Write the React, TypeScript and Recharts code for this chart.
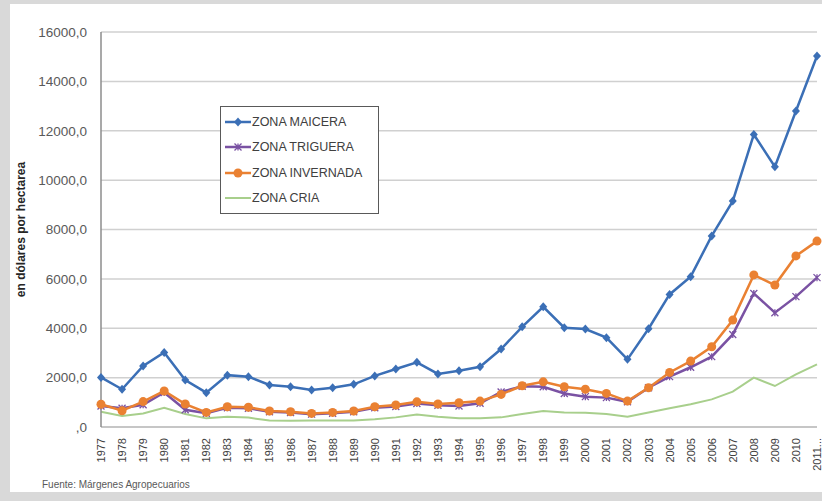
import React from "react";
import { LineChart, Line, XAxis, YAxis, CartesianGrid, Legend } from "recharts";

const years = ["1977","1978","1979","1980","1981","1982","1983","1984","1985","1986","1987","1988","1989","1990","1991","1992","1993","1994","1995","1996","1997","1998","1999","2000","2001","2002","2003","2004","2005","2006","2007","2008","2009","2010","2011..."];

const maicera = [2010,1530,2470,3020,1900,1390,2100,2040,1700,1630,1500,1590,1730,2070,2350,2620,2150,2280,2440,3160,4060,4870,4020,3970,3620,2740,3980,5370,6090,7740,9150,11850,10540,12800,15030];
const triguera = [850,760,900,1400,700,560,780,760,620,590,520,560,620,780,830,950,880,850,960,1420,1650,1630,1360,1230,1190,1020,1590,2040,2420,2850,3750,5410,4630,5280,6050];
const invernada = [920,660,1030,1460,930,590,820,800,650,620,550,590,650,820,890,1020,930,980,1050,1320,1670,1830,1630,1530,1360,1050,1590,2210,2670,3250,4330,6160,5750,6930,7530];
const cria = [620,450,550,780,530,350,420,380,260,250,260,260,260,310,390,510,420,350,350,390,530,650,590,580,530,420,590,760,920,1120,1430,2000,1660,2130,2540];

const yTicks = [0,2000,4000,6000,8000,10000,12000,14000,16000];

const seriesNames = ["ZONA MAICERA","ZONA TRIGUERA","ZONA INVERNADA","ZONA CRIA"];
const seriesColors = ["#3b6fb6","#7a52a3","#ea8132","#a8cf8c"];

const data = years.map((y, i) => ({
  year: y,
  maicera: maicera[i],
  triguera: triguera[i],
  invernada: invernada[i],
  cria: cria[i],
}));

const FONT = "'Liberation Sans', Arial, sans-serif";

const Diamond = (props: any) => {
  const { cx, cy, fill } = props;
  if (cx == null || cy == null) return null;
  return <path d={`M${cx},${cy - 4.5}L${cx + 4},${cy}L${cx},${cy + 4.5}L${cx - 4},${cy}Z`} fill={fill} />;
};
const Circle = (props: any) => {
  const { cx, cy, fill } = props;
  if (cx == null || cy == null) return null;
  return <circle cx={cx} cy={cy} r={4.5} fill={fill} />;
};
const Star = (props: any) => {
  const { cx, cy, stroke } = props;
  if (cx == null || cy == null) return null;
  const r = 3.5;
  return (
    <path
      d={`M${cx - r},${cy - r}L${cx + r},${cy + r}M${cx - r},${cy + r}L${cx + r},${cy - r}M${cx},${cy - r}L${cx},${cy + r}`}
      stroke={stroke}
      strokeWidth={1.3}
      fill="none"
    />
  );
};

const markerFor = (i: number, color: string, cx: number, cy: number) => {
  if (i === 0) return <Diamond cx={cx} cy={cy} fill={color} />;
  if (i === 1) return <Star cx={cx} cy={cy} stroke={color} />;
  if (i === 2) return <Circle cx={cx} cy={cy} fill={color} />;
  return null;
};

const XTick = (props: any) => {
  const { x, y, payload } = props;
  return (
    <text
      x={x}
      y={y}
      transform={`rotate(-90, ${x}, ${y})`}
      textAnchor="end"
      dominantBaseline="central"
      fontSize={11}
      fill="#404040"
      fontFamily={FONT}
    >
      {payload.value}
    </text>
  );
};

const LegendBox = () => (
  <div
    style={{
      border: "1.5px solid #595959",
      background: "#fff",
      width: 159,
      padding: "2px 0 2px 4px",
      boxSizing: "border-box",
      fontFamily: FONT,
      fontSize: 12.5,
      color: "#404040",
    }}
  >
    {seriesNames.map((n, i) => (
      <div key={n} style={{ display: "flex", alignItems: "center", height: 25.5 }}>
        <svg width={26} height={12} style={{ marginRight: 1 }}>
          <line x1={0} y1={6} x2={26} y2={6} stroke={seriesColors[i]} strokeWidth={i === 3 ? 2 : 2.5} />
          {markerFor(i, seriesColors[i], 13, 6)}
        </svg>
        <span>{n}</span>
      </div>
    ))}
  </div>
);

const YLabel = (props: any) => {
  const vb = props.viewBox || {};
  const cx = 21;
  const cy = vb.y + vb.height / 2;
  return (
    <text
      x={cx}
      y={cy}
      transform={`rotate(-90, ${cx}, ${cy})`}
      textAnchor="middle"
      dominantBaseline="central"
      fontSize={12}
      fontWeight="bold"
      fill="#262626"
      fontFamily={FONT}
    >
      en dólares por hectarea
    </text>
  );
};

export default function App() {
  return (
    <div style={{ position: "absolute", left: 0, top: 0, width: 822, height: 501, background: "#d9d9d9" }}>
      <div style={{ position: "absolute", left: 10, top: 4, width: 812, height: 488, background: "#ffffff" }} />
      <div style={{ position: "absolute", left: 0, top: 0 }}>
        <LineChart
          width={822}
          height={501}
          data={data}
          margin={{ top: 32, right: 5, left: 10, bottom: 24 }}
        >
          <CartesianGrid vertical={false} stroke="#d0d0d0" strokeWidth={1.5} />
          <XAxis
            dataKey="year"
            interval={0}
            tick={<XTick />}
            tickLine={false}
            tickSize={0}
            tickMargin={11}
            height={50}
            axisLine={{ stroke: "#bfbfbf", strokeWidth: 1.5 }}
          />
          <YAxis
            width={91}
            domain={[0, 16000]}
            ticks={yTicks}
            interval={0}
            tickLine={false}
            tickSize={0}
            tickMargin={14}
            axisLine={{ stroke: "#8c8c8c", strokeWidth: 1.5 }}
            tick={{ fontSize: 13.5, fill: "#595959", fontFamily: FONT }}
            tickFormatter={(v: number) => (v === 0 ? ",0" : `${v},0`)}
            label={<YLabel />}
          />
          <Legend
            layout="vertical"
            align="center"
            verticalAlign="middle"
            content={<LegendBox />}
            wrapperStyle={{ position: "absolute", left: 220, top: 106, width: 160, bottom: "auto", right: "auto" }}
          />
          <Line
            dataKey="maicera"
            name={seriesNames[0]}
            stroke={seriesColors[0]}
            strokeWidth={2.5}
            type="linear"
            isAnimationActive={false}
            dot={(p: any) => <Diamond key={`m${p.index}`} cx={p.cx} cy={p.cy} fill={seriesColors[0]} />}
          />
          <Line
            dataKey="triguera"
            name={seriesNames[1]}
            stroke={seriesColors[1]}
            strokeWidth={2.5}
            type="linear"
            isAnimationActive={false}
            dot={(p: any) => <Star key={`t${p.index}`} cx={p.cx} cy={p.cy} stroke={seriesColors[1]} />}
          />
          <Line
            dataKey="invernada"
            name={seriesNames[2]}
            stroke={seriesColors[2]}
            strokeWidth={2.5}
            type="linear"
            isAnimationActive={false}
            dot={(p: any) => <Circle key={`i${p.index}`} cx={p.cx} cy={p.cy} fill={seriesColors[2]} />}
          />
          <Line
            dataKey="cria"
            name={seriesNames[3]}
            stroke={seriesColors[3]}
            strokeWidth={2}
            type="linear"
            isAnimationActive={false}
            dot={false}
          />
        </LineChart>
      </div>
      <div
        style={{
          position: "absolute",
          left: 42,
          top: 479,
          fontFamily: FONT,
          fontSize: 10,
          color: "#595959",
          whiteSpace: "nowrap",
        }}
      >
        Fuente: Márgenes Agropecuarios
      </div>
    </div>
  );
}
